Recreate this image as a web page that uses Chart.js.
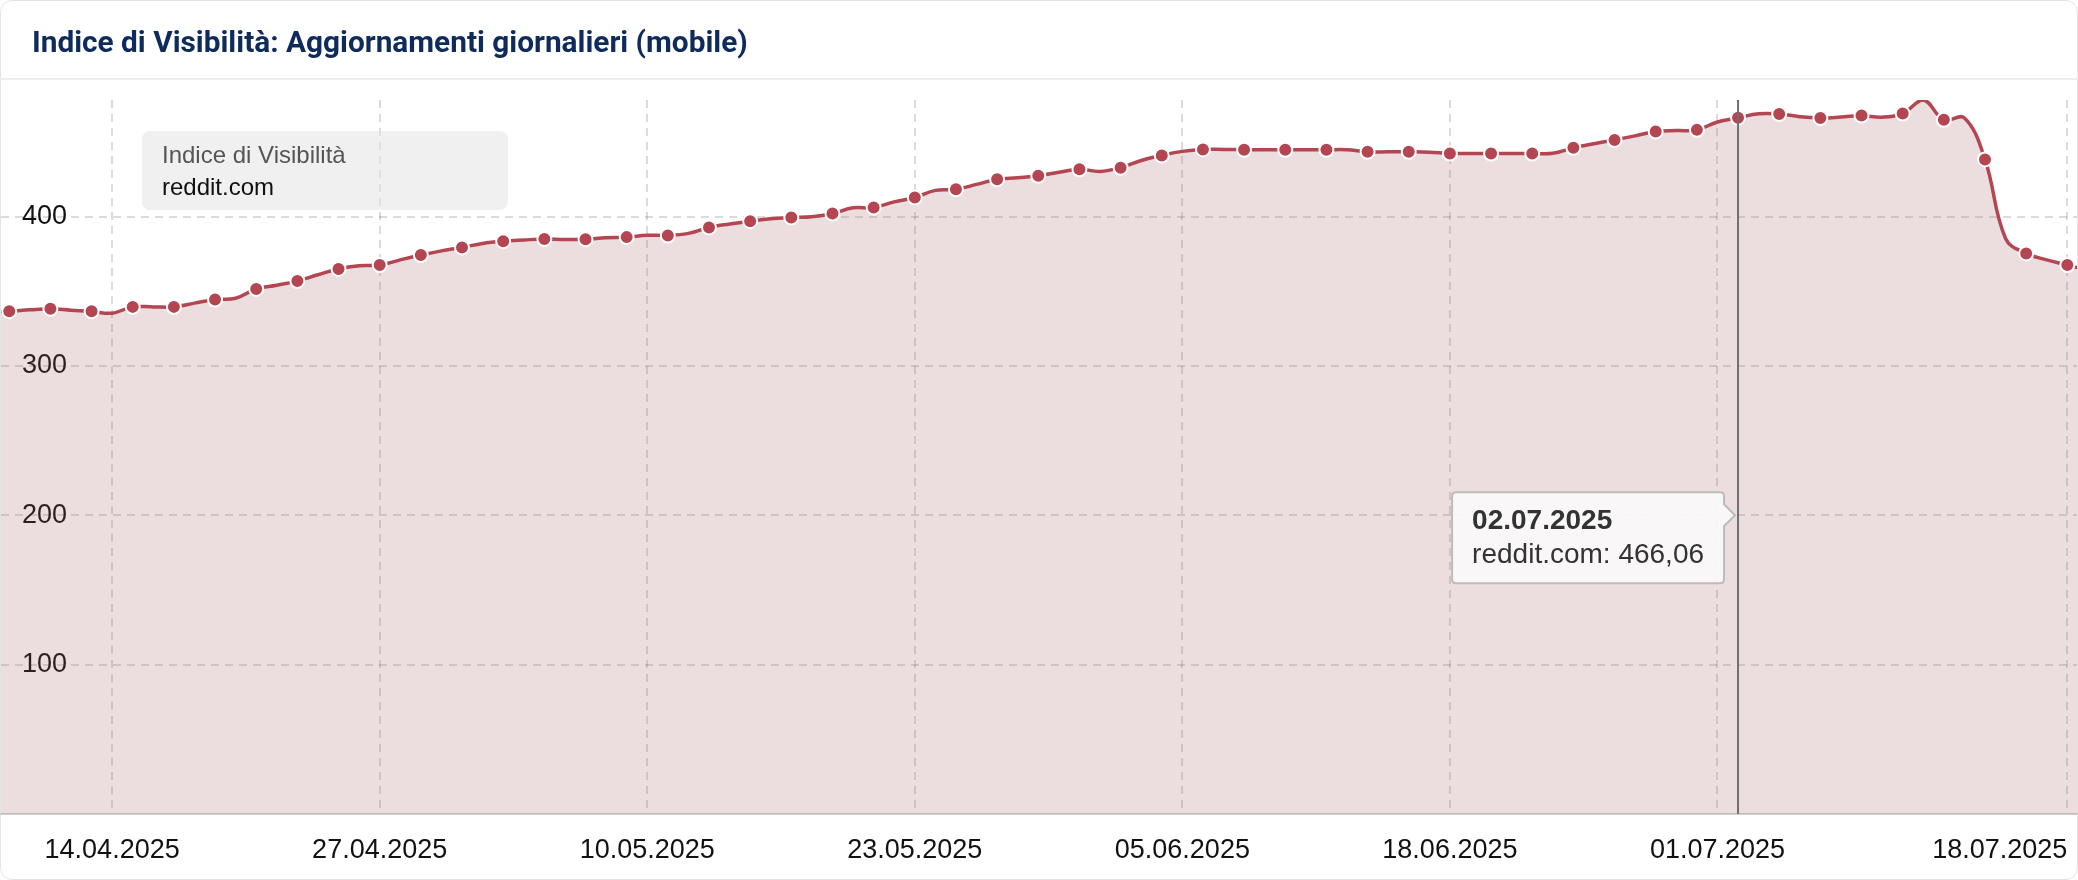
<!DOCTYPE html>
<html lang="it">
<head>
<meta charset="utf-8">
<title>Indice di Visibilità: Aggiornamenti giornalieri (mobile)</title>
<script src="https://cdn.jsdelivr.net/npm/chart.js@4.4.1/dist/chart.umd.min.js"></script>
<style>
    html, body { margin: 0; padding: 0; background: #fff; }
    .card {
        position: absolute; left: 0; top: 0;
        width: 2076px; height: 878px;
        border: 1px solid #e4e4e4; border-radius: 12px;
        background: #fff;
    }
    .card-title {
        position: absolute; left: 0; top: 0; width: 2078px; height: 80px;
        border-bottom: 2px solid #eeeeee; box-sizing: border-box;
        padding-left: 32px;
        font: bold 29.8px Roboto, "Liberation Sans", sans-serif; color: #0f2b5b;
        line-height: 84px;
        z-index: 2;
    }
    .chart-wrap { position: absolute; left: 0; top: 0; width: 2078px; height: 880px; z-index: 1; }
    .legend-box {
        position: absolute; left: 142px; top: 131px; width: 366px; height: 79px;
        background: rgba(228, 228, 228, 0.55); border-radius: 8px;
        box-sizing: border-box; padding: 8px 0 0 20px;
        font-family: "Liberation Sans", Arial, sans-serif; font-size: 24px; line-height: 32px;
        z-index: 3;
    }
    .legend-box .name { color: #555; }
    .legend-box .series { color: #111; }
</style>
</head>
<body>
<div class="card"></div>
<div class="card-title">Indice di Visibilità: Aggiornamenti giornalieri (mobile)</div>
<div class="chart-wrap"><canvas id="visibility-chart"></canvas></div>
<div class="legend-box">
    <div class="name" id="legend-name"></div>
    <div class="series" id="legend-series"></div>
</div>
<script>
// Data: one value per day, starting at startDate
const indexName = 'Indice di Visibilità';
const seriesName = 'reddit.com';
const startDate = '08.04.2025';
const visibility = [
    336, 336.5, 337.5, 338.2, 337.3, 336.5, 335.3, 339.5, 339.5, 339.5,
    342, 344.4, 345.3, 351.5, 354, 356.9, 361, 364.9, 367, 367.5,
    371, 374.2, 377, 379.3, 382, 383.5, 384.3, 384.9, 384.6, 384.7,
    385.8, 386.2, 387.5, 387.3, 388.7, 392.7, 395, 396.9, 398.5, 399.3,
    399.8, 402, 405.8, 406, 409.8, 412.7, 417.5, 418.2, 421.5, 424.9,
    426, 427.3, 429.6, 431.6, 430.2, 432.7, 437.5, 440.9, 443.6, 444.9,
    444.9, 444.7, 444.7, 444.7, 444.7, 444.7, 444.7, 443.3, 443.3, 443.3,
    443.1, 442.2, 442.2, 442.2, 442.2, 442.2, 442.3, 446, 448.7, 451.3,
    454, 456.9, 457.5, 458, 463.3, 466.06, 468.8, 468.7, 466.8, 466,
    466.6, 467.6, 466.5, 468.9, 478, 464.7, 466, 438.2, 385.3, 375.3,
    371, 367.5, 364
];
const dateTicks = ['14.04.2025', '27.04.2025', '10.05.2025', '23.05.2025', '05.06.2025', '18.06.2025', '01.07.2025', '18.07.2025'];
const valueTicks = [0, 100, 200, 300, 400];
const hoverDate = '02.07.2025';

const lineColor = '#b44652';
const gridColor = 'rgba(0, 0, 0, 0.14)';
const fontFamily = '"Liberation Sans", Arial, sans-serif';

const DAY = 86400000;
function parseDate(s) {
    const [d, m, y] = s.split('.').map(Number);
    return Date.UTC(y, m - 1, d);
}
const t0 = parseDate(startDate);
const dayOf = s => Math.round((parseDate(s) - t0) / DAY);
const pad = n => String(n).padStart(2, '0');
function formatDay(i) {
    const dt = new Date(t0 + i * DAY);
    return pad(dt.getUTCDate()) + '.' + pad(dt.getUTCMonth() + 1) + '.' + dt.getUTCFullYear();
}

document.getElementById('legend-name').textContent = indexName;
document.getElementById('legend-series').textContent = seriesName;

const xMin = 0.6;
const xMax = 101.47;

// vertical hover line + tooltip for the highlighted day
const hoverPlugin = {
    id: 'hoverPoint',
    afterDatasetsDraw(chart) {
        const idx = dayOf(hoverDate);
        const pt = chart.getDatasetMeta(0).data[idx];
        const { ctx, chartArea } = chart;
        ctx.save();
        ctx.strokeStyle = '#6f6f6f';
        ctx.lineWidth = 2;
        ctx.beginPath();
        ctx.moveTo(pt.x, chartArea.top);
        ctx.lineTo(pt.x, chartArea.bottom);
        ctx.stroke();
        ctx.restore();
    },
    afterDraw(chart) {
        const idx = dayOf(hoverDate);
        const pt = chart.getDatasetMeta(0).data[idx];
        const { ctx, scales } = chart;
        const title = formatDay(idx);
        const body = seriesName + ': ' + visibility[idx].toLocaleString('it-IT', { minimumFractionDigits: 2, maximumFractionDigits: 2 });

        ctx.save();
        ctx.font = 'bold 28px ' + fontFamily;
        const w1 = ctx.measureText(title).width;
        ctx.font = '28px ' + fontFamily;
        const w2 = ctx.measureText(body).width;

        const padX = 20, boxH = 91, caret = 11;
        const boxW = Math.max(w1, w2) + padX * 2;
        const caretY = scales.y.getPixelForValue(200);
        const right = pt.x - caret - 3;
        const left = right - boxW;
        const top = caretY - 23;
        const r = 4;

        ctx.beginPath();
        ctx.moveTo(left + r, top);
        ctx.lineTo(right - r, top);
        ctx.quadraticCurveTo(right, top, right, top + r);
        ctx.lineTo(right, caretY - caret);
        ctx.lineTo(right + caret, caretY);
        ctx.lineTo(right, caretY + caret);
        ctx.lineTo(right, top + boxH - r);
        ctx.quadraticCurveTo(right, top + boxH, right - r, top + boxH);
        ctx.lineTo(left + r, top + boxH);
        ctx.quadraticCurveTo(left, top + boxH, left, top + boxH - r);
        ctx.lineTo(left, top + r);
        ctx.quadraticCurveTo(left, top, left + r, top);
        ctx.closePath();
        ctx.fillStyle = 'rgba(251, 250, 250, 0.92)';
        ctx.fill();
        ctx.strokeStyle = '#bcbcbc';
        ctx.lineWidth = 2;
        ctx.stroke();

        ctx.fillStyle = '#333';
        ctx.textBaseline = 'middle';
        ctx.textAlign = 'left';
        ctx.font = 'bold 28px ' + fontFamily;
        ctx.fillText(title, left + padX, top + 29);
        ctx.font = '28px ' + fontFamily;
        ctx.fillText(body, left + padX, top + 63);
        ctx.restore();
    }
};

const ctx = document.getElementById('visibility-chart').getContext('2d');
new Chart(ctx, {
    type: 'line',
    data: {
        datasets: [{
            label: seriesName,
            data: visibility.map((v, i) => ({ x: i, y: v })),
            borderColor: lineColor,
            borderWidth: 3.5,
            backgroundColor: 'rgba(160, 85, 95, 0.2)',
            fill: 'origin',
            tension: 0.4,
            pointRadius: c => (c.dataIndex % 2 === 1 ? 7 : 0),
            pointHoverRadius: c => (c.dataIndex % 2 === 1 ? 7 : 0),
            pointBackgroundColor: lineColor,
            pointBorderColor: '#fff',
            pointBorderWidth: 2
        }]
    },
    options: {
        responsive: true,
        maintainAspectRatio: false,
        animation: false,
        events: [],
        layout: { padding: { top: 100, left: 1, right: 1, bottom: 0 } },
        plugins: {
            legend: { display: false },
            tooltip: { enabled: false }
        },
        scales: {
            x: {
                type: 'linear',
                min: xMin,
                max: xMax,
                afterBuildTicks: scale => {
                    scale.ticks = [{ value: xMin }].concat(dateTicks.map(d => ({ value: dayOf(d) })));
                },
                afterFit: scale => { scale.height = 66; },
                ticks: {
                    autoSkip: false,
                    maxRotation: 0,
                    align: 'inner',
                    padding: 0,
                    color: '#111',
                    font: { family: fontFamily, size: 27, lineHeight: 2.7 },
                    callback: v => (v === xMin ? '' : formatDay(v))
                },
                grid: {
                    drawTicks: false,
                    lineWidth: 2,
                    color: c => (c.tick && c.tick.value === xMin ? 'transparent' : gridColor)
                },
                border: { display: true, color: '#d0d0d0', width: 2, dash: [8, 6] }
            },
            y: {
                min: 0,
                max: Math.max(...visibility),
                afterBuildTicks: scale => {
                    scale.ticks = valueTicks.map(v => ({ value: v }));
                },
                afterFit: scale => { scale.width = 0; },
                ticks: {
                    mirror: true,
                    padding: 21,
                    color: '#111',
                    font: { family: fontFamily, size: 27 },
                    callback: v => (v === 0 ? '' : String(v))
                },
                grid: {
                    drawTicks: false,
                    lineWidth: 2,
                    color: c => (c.tick && c.tick.value === 0 ? 'transparent' : gridColor)
                },
                border: { display: false, dash: [8, 6] }
            }
        }
    },
    plugins: [hoverPlugin]
});
</script>
</body>
</html>
